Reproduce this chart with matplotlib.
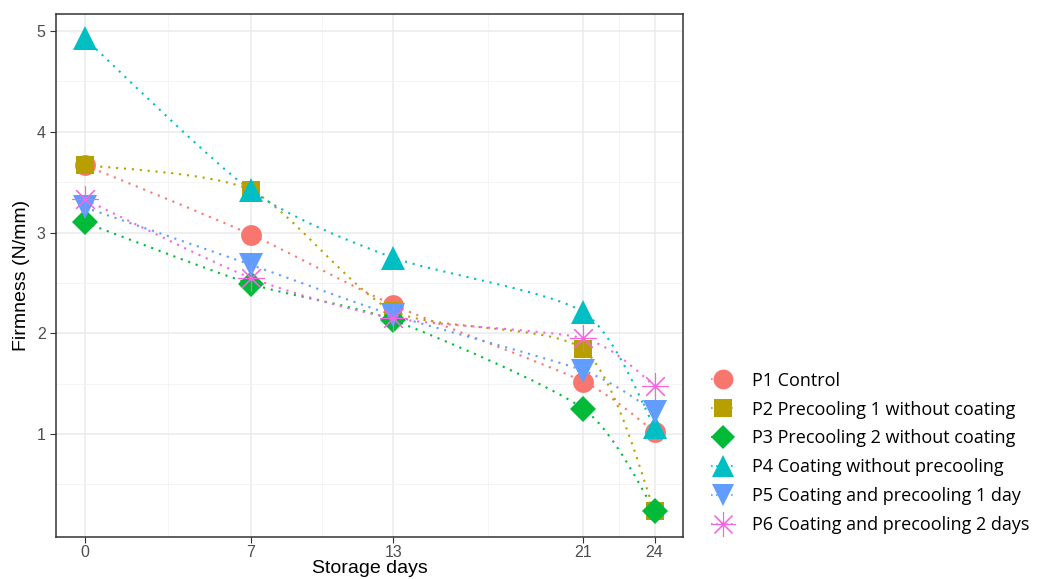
import numpy as np
import matplotlib.pyplot as plt
from matplotlib.path import Path
from matplotlib.patches import PathPatch
from matplotlib.lines import Line2D

days = [0, 7, 13, 21, 24]
p1 = [3.67, 2.98, 2.28, 1.52, 1.02]
p2 = [3.67, 3.42, 2.22, 1.84, 0.24]
p3 = [3.10, 2.49, 2.13, 1.25, 0.24]
p4 = [4.93, 3.42, 2.75, 2.21, 1.07]
p5 = [3.25, 2.68, 2.18, 1.63, 1.22]
p6 = [3.33, 2.55, 2.15, 1.95, 1.48]

labels = [
    "P1 Control",
    "P2 Precooling 1 without coating",
    "P3 Precooling 2 without coating",
    "P4 Coating without precooling",
    "P5 Coating and precooling 1 day",
    "P6 Coating and precooling 2 days",
]
series = [p1, p2, p3, p4, p5, p6]
colors = ["#F8766D", "#B79F00", "#00BA38", "#00BFC4", "#619CFF", "#F564E3"]
markers = ["o", "s", "D", "^", "v", (8, 2, 0)]
msizes = [15, 13, 13, 17, 17, 19]

plt.rcParams["font.family"] = ["Liberation Sans", "DejaVu Sans"]


def smooth_path(x, y, k=8.0):
    # catmull-rom-like curve through the points, as cubic bezier segments
    pts = np.column_stack([x, y]).astype(float)
    n = len(pts)
    verts = [pts[0]]
    codes = [Path.MOVETO]
    for i in range(n - 1):
        p0 = pts[max(i - 1, 0)]
        pa = pts[i]
        pb = pts[i + 1]
        p3 = pts[min(i + 2, n - 1)]
        c1 = pa + (pb - p0) / k
        c2 = pb - (p3 - pa) / k
        verts += [c1, c2, pb]
        codes += [Path.CURVE4] * 3
    return Path(verts, codes)


fig = plt.figure(figsize=(10.38, 5.79), dpi=100)
ax = fig.add_axes([0.054, 0.073, 0.604, 0.903])

for vals, col in zip(series, colors):
    patch = PathPatch(smooth_path(days, vals), facecolor="none", edgecolor=col,
                      lw=1.5, linestyle=(0, (1, 2.8)), zorder=2)
    ax.add_patch(patch)

for vals, col, m, ms in zip(series, colors, markers, msizes):
    star = isinstance(m, tuple)
    ax.plot(days, vals, linestyle="none", marker=m, ms=ms, color=col,
            markeredgewidth=0.8 if star else 0, zorder=3)

ax.set_xlim(-1.2, 25.2)
ax.set_ylim(-0.02, 5.17)
ax.set_xticks(days)
ax.set_xticks([3.5, 10, 17, 22.5], minor=True)
ax.set_yticks([1, 2, 3, 4, 5])
ax.set_yticks([0.5, 1.5, 2.5, 3.5, 4.5], minor=True)
ax.grid(which="major", color="#EBEBEB", lw=1.1)
ax.grid(which="minor", color="#F2F2F2", lw=0.6)
ax.set_axisbelow(True)
ax.tick_params(which="major", length=4, color="#333333", labelsize=11.5,
               labelcolor="#4D4D4D")
ax.tick_params(axis="x", pad=2)
ax.tick_params(which="minor", length=0)
for s in ax.spines.values():
    s.set_color("#333333")
    s.set_linewidth(1.1)

ax.set_xlabel("Storage days", fontsize=14, labelpad=0)
ax.set_ylabel("Firmness (N/mm)", fontsize=14, labelpad=5)

handles = []
for col, m, ms in zip(colors, markers, msizes):
    star = isinstance(m, tuple)
    handles.append(Line2D([], [], color=col, marker=m, ms=ms * 0.95,
                          linestyle=(0, (1, 2)), lw=1.2,
                          markeredgewidth=0.8 if star else 0))
fig.legend(handles, labels, loc="center left", bbox_to_anchor=(0.669, 0.218),
           frameon=False, handlelength=1.4, handletextpad=0.9,
           labelspacing=0.6, prop={"family": ["Open Sans", "DejaVu Sans"],
                                   "size": 13})

fig.savefig("out.png", dpi=100)
